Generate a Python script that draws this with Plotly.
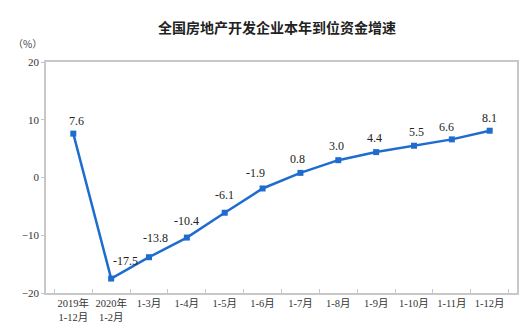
import plotly.graph_objects as go

categories = ["2019年<br>1-12月", "2020年<br>1-2月", "1-3月", "1-4月", "1-5月", "1-6月",
              "1-7月", "1-8月", "1-9月", "1-10月", "1-11月", "1-12月"]
values = [7.6, -17.5, -13.8, -10.4, -6.1, -1.9, 0.8, 3.0, 4.4, 5.5, 6.6, 8.1]
labels = ["7.6", "-17.5", "-13.8", "-10.4", "-6.1", "-1.9", "0.8", "3.0", "4.4", "5.5", "6.6", "8.1"]
y_ticks = [-20, -10, 0, 10, 20]

# label offsets in pixels (style only)
x_off = [3, 14, 6, 0, 0, -7, -3, -2, -2, 3, -5, 0]
y_off = [13, 18, 19, 17, 18, 15, 14, 14, 14, 14, 12, 13]

serif = "Liberation Serif, Times New Roman, Noto Sans CJK SC, serif"
blue = "#1f6ccf"

fig = go.Figure(go.Scatter(
    x=categories, y=values, mode="lines+markers",
    line=dict(color=blue, width=2.5),
    marker=dict(symbol="square", size=6, color=blue),
    cliponaxis=False,
))

for c, v, t, dx, dy in zip(categories, values, labels, x_off, y_off):
    fig.add_annotation(x=c, y=v, text=t, showarrow=False, xshift=dx, yshift=dy,
                       xanchor="center", yanchor="middle",
                       font=dict(family=serif, size=12, color="#222222"))

plot_top, plot_bottom, plot_left, plot_right = 62, 293, 46, 517
ph = plot_bottom - plot_top
pw = plot_right - plot_left

fig.add_annotation(text="（%）", x=(27 - plot_left) / pw, y=(plot_bottom - 44) / ph,
                   xref="paper", yref="paper", xanchor="center", yanchor="middle",
                   showarrow=False,
                   font=dict(family="Noto Sans CJK SC", size=10, color="#444444"))

fig.update_layout(
    width=531, height=334,
    margin=dict(l=plot_left, r=531 - plot_right, t=plot_top, b=334 - plot_bottom),
    paper_bgcolor="white", plot_bgcolor="white",
    showlegend=False,
    title=dict(text="全国房地产开发企业本年到位资金增速", x=277 / 531, xanchor="center",
               y=1 - 28 / 334, yanchor="middle",
               font=dict(family="Noto Sans CJK SC", size=14, color="#222222", weight=600)),
)

fig.update_xaxes(
    type="category", tickson="boundaries", ticks="inside", ticklen=4,
    tickcolor="#c8c8c8", showline=True, linecolor="#c8c8c8", linewidth=1.5,
    mirror=True, showgrid=False, zeroline=False, tickangle=0, automargin=False,
    tickfont=dict(family=serif, size=10.5, color="#333333"),
)
fig.update_yaxes(
    range=[-20, 20], tickvals=y_ticks, ticks="outside", ticklen=3,
    tickcolor="#c8c8c8", showline=True, linecolor="#c8c8c8", linewidth=1.5,
    mirror=True, showgrid=False, zeroline=False, automargin=False,
    tickfont=dict(family=serif, size=11, color="#333333"),
)

fig.write_html("out.html")
